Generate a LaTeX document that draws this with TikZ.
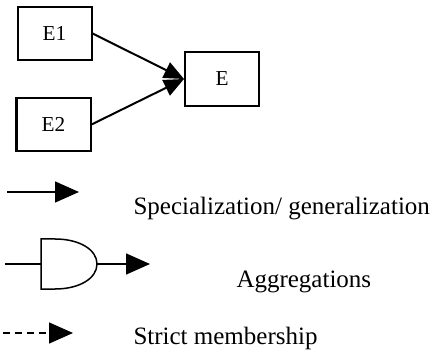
\documentclass[tikz,border=0pt]{standalone}
\usepackage{fontspec}
\setmainfont{Liberation Serif}
\usetikzlibrary{arrows.meta}

\begin{document}
\begin{tikzpicture}[x=0.4pt,y=-0.4pt,
    ent/.style={draw, line width=0.8pt, minimum width=29.6pt, minimum height=21.4pt, inner sep=0pt, font=\fontsize{8.5}{9}\selectfont},
    bigtip/.style={-{Triangle[length=8pt,width=6.8pt]}, line width=0.8pt},
    legtip/.style={-{Triangle[length=9.6pt,width=8.4pt]}, line width=0.6pt},
    legtext/.style={anchor=base west, inner sep=0pt, font=\fontsize{10}{12}\selectfont}]
    \useasboundingbox (0,0) rectangle (437,357);
    \node[ent] (E1) at (54.5,33.5) {E1};
    \node[ent] (E2) at (53.5,124.5) {E2};
    \node[ent] (E) at (222,79) {E};
    \path[bigtip]
    (E1.east) edge (E.west)
    (E2.east) edge (E.west)
    ;

    \coordinate (s1) at (7,192);
    \coordinate (t1) at (79,192);
    \draw[legtip] (s1) -- (t1);
    \node[legtext] (spec) at (133,215) {Specialization/ generalization};

    \coordinate (g1) at (5,264);
    \coordinate (g2) at (41,264);
    \coordinate (g3) at (97,264);
    \coordinate (t2) at (150,264);
    \draw[line width=0.6pt] (g1) -- (g2);
    \draw[line width=0.6pt] (41,239) -- (55,239) .. controls (80,239) and (97,250) .. (g3)
        .. controls (97,278) and (80,289) .. (55,289) -- (41,289) -- cycle;
    \draw[legtip] (g3) -- (t2);
    \node[legtext] (aggr) at (236,287) {Aggregations};

    \coordinate (s3) at (3,333);
    \coordinate (t3) at (73,333);
    \draw[legtip, dash pattern=on 2.8pt off 2pt] (s3) -- (t3);
    \node[legtext] (memb) at (133,344) {Strict membership};
\end{tikzpicture}
\end{document}
